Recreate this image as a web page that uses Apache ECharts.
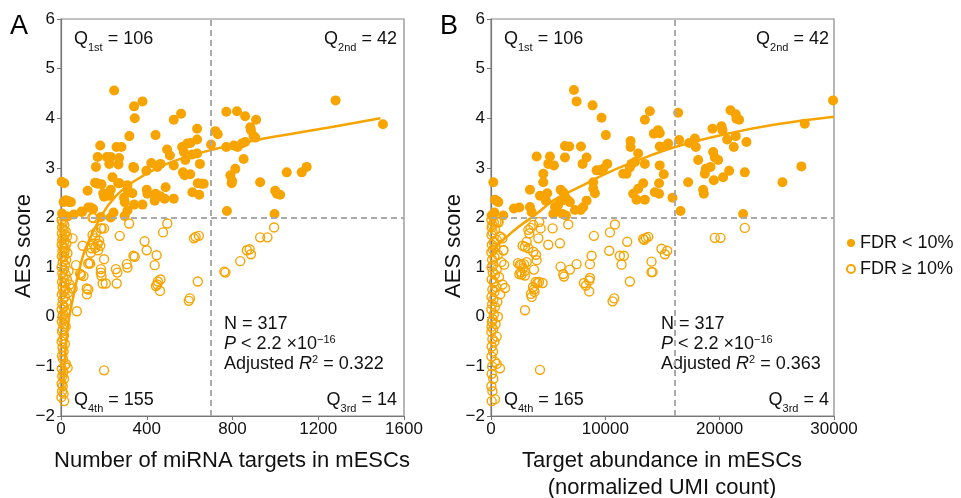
<!DOCTYPE html>
<html>
<head>
<meta charset="utf-8">
<script src="https://cdn.jsdelivr.net/npm/echarts@6/dist/echarts.min.js"></script>
<style>
  html, body { margin: 0; padding: 0; background: #fff; }
  #charts { width: 961px; height: 498px; }
</style>
</head>
<body>
<div id="charts"></div>
<script>
// 颜色
var orange = '#F7A400';

// 坐标轴刻度
var yTicks = [-2, -1, 0, 1, 2, 3, 4, 5, 6];
var xTicksA = [0, 400, 800, 1200, 1600];
var xTicksB = [0, 10000, 20000, 30000];
var cutA = 700;      // A图竖虚线
var cutB = 16100;    // B图竖虚线
var cutY = 2;        // 横虚线

// A: FDR < 10%
var aFilled = [
  [248,4.56],[341,4.24],[380,4.34],[344,4.0],[560,4.09],[526,3.97],[635,3.79],[635,3.57],[319,3.64],[441,3.66],
  [183,3.45],[259,3.42],[282,3.42],[171,3.22],[214,3.22],[232,3.22],[271,3.2],[225,3.08],[268,3.07],[163,3.02],
  [341,3.0],[240,2.81],[166,2.69],[189,2.67],[273,2.69],[232,2.56],[124,2.54],[225,2.44],[201,2.42],[310,2.65],
  [313,2.51],[333,2.49],[294,2.4],[297,2.31],[310,2.14],[297,2.03],[245,2.1],[232,2.0],[186,2.01],[127,2.2],
  [139,2.2],[150,2.17],[98,2.11],[46,2.31],[39,2.31],[15,2.69],[12,2.31],[15,2.02],[31,2.02],[380,2.26],
  [341,2.26],[437,2.34],[464,2.43],[483,2.38],[526,2.38],[400,2.56],[403,2.48],[488,2.61],[441,2.48],[398,2.94],
  [421,3.1],[449,3.02],[464,3.08],[495,3.37],[508,3.25],[526,3.05],[565,3.42],[573,3.32],[580,3.16],[569,2.91],
  [577,2.85],[603,2.87],[612,3.27],[589,3.49],[604,3.5],[635,3.29],[648,3.08],[654,2.68],[638,2.69],[666,2.68],
  [613,2.51],[645,2.46],[700,3.47],[720,3.74],[731,3.68],[771,4.13],[821,4.14],[859,4.04],[910,3.97],[883,3.82],
  [886,3.76],[898,3.64],[906,3.61],[771,3.42],[806,3.45],[824,3.42],[844,3.49],[859,3.52],[852,3.18],[813,2.98],
  [790,2.85],[798,2.74],[796,2.69],[774,2.13],[929,2.71],[999,2.54],[1007,2.48],[1022,2.46],[1053,2.91],[1123,2.91],
  [1146,3.02],[1281,4.36],[1502,3.88],[996,2.07],[3,2.72],[22,2.35],[33,2.33],[96,2.12],[159,2.7],[173,2.68],
  [197,2.49],[267,2.69],[311,2.55],[337,3.02],[5,2.08],[60,2.06]
];

// A: FDR ≥ 10%
var aOpen = [
  [201,-1.08],[74,0.11],[121,0.45],[127,0.55],[54,0.57],[70,1.04],[93,0.84],[105,0.82],[136,1.07],[132,1.09],
  [139,1.29],[152,1.46],[160,1.39],[171,1.47],[178,1.53],[183,1.43],[173,1.34],[147,1.65],[163,1.7],[186,1.78],
  [201,1.78],[152,1.99],[101,1.43],[54,1.58],[186,0.96],[186,0.89],[189,0.82],[194,0.67],[209,0.67],[201,1.16],
  [256,0.96],[263,0.89],[260,0.67],[274,1.63],[318,1.88],[307,1.06],[310,0.99],[338,1.23],[344,1.21],[390,1.52],
  [400,1.34],[437,1.04],[446,1.24],[449,0.65],[452,0.71],[464,0.75],[462,0.52],[443,0.62],[476,1.7],[496,1.88],
  [596,0.32],[601,0.37],[620,1.58],[628,1.61],[643,1.63],[638,0.71],[762,0.91],[767,0.89],[836,1.12],[867,1.34],
  [880,1.36],[886,1.26],[929,1.6],[963,1.6],[994,1.8],[146,2.0],[190,1.78],[159,1.58],[143,1.38],[127,1.07],
  [89,0.87],[120,0.57],
  [3,1.95],[8,1.9],[15,1.85],[5,1.8],[12,1.75],[22,1.72],[4,1.68],[18,1.65],[9,1.6],[28,1.62],
  [6,1.55],[14,1.5],[25,1.48],[3,1.45],[10,1.4],[20,1.38],[7,1.32],[16,1.3],[30,1.28],[4,1.22],
  [12,1.2],[24,1.15],[8,1.1],[18,1.05],[3,1.0],[14,0.95],[35,0.92],[6,0.88],[22,0.85],[10,0.8],
  [28,0.75],[5,0.7],[16,0.68],[40,0.65],[8,0.6],[20,0.55],[12,0.5],[32,0.48],[4,0.45],[18,0.4],
  [9,0.35],[25,0.3],[6,0.25],[14,0.2],[3,0.15],[20,0.1],[10,0.05],[7,0.0],[16,-0.05],[4,-0.1],
  [12,-0.15],[22,-0.2],[8,-0.25],[5,-0.3],[14,-0.38],[10,-0.45],[3,-0.5],[18,-0.55],[7,-0.62],[12,-0.7],
  [5,-0.78],[9,-0.85],[23,-0.95],[31,-1.03],[18,-0.98],[4,-1.05],[11,-1.12],[6,-1.2],[14,-1.25],[3,-1.35],
  [8,-1.4],[5,-1.5],[12,-1.55],[15,-1.7],[2,-1.62]
];

// A: 拟合曲线
var aFit = [[10,-1.5],[20,-0.7],[35,-0.1],[50,0.25],[80,0.85],[115,1.38],[190,2.05],[260,2.45],[337,2.72],
  [493,3.08],[700,3.36],[960,3.6],[1270,3.83],[1490,4.0]];

// B: FDR < 10%
var bFilled = [
  [7253,4.57],[7486,4.34],[8885,4.26],[9671,4.01],[10050,3.66],[6467,3.44],[6846,3.43],[7865,3.43],[3991,3.23],[5156,3.23],
  [5010,3.08],[5505,3.05],[6467,3.21],[8011,3.08],[8360,3.21],[4573,2.88],[4573,2.71],[4923,2.49],[4806,2.34],[4282,2.44],
  [3408,2.56],[3408,2.21],[2476,2.2],[204,2.71],[495,2.34],[641,2.31],[350,2.36],[58,2.04],[1078,2.04],[3554,2.11],
  [5447,2.07],[5593,2.21],[6088,2.56],[6321,2.51],[6467,2.42],[6671,2.36],[6904,2.31],[6176,2.34],[5884,2.26],[5738,2.18],
  [6263,2.07],[6554,2.04],[7341,2.15],[7836,2.15],[8069,2.21],[8360,2.34],[8943,2.58],[9088,2.49],[9234,2.95],[9525,2.95],
  [9817,2.98],[10166,3.08],[8943,2.71],[11565,2.88],[11856,2.88],[12147,3.01],[12293,3.08],[12584,3.12],[12875,3.29],[12205,3.42],
  [12205,3.54],[12438,2.48],[12730,2.36],[12875,2.58],[13312,2.69],[13458,2.36],[13458,3.08],[13458,3.97],[13895,4.14],[14245,3.69],
  [14613,3.76],[14759,3.7],[14759,3.43],[15050,3.42],[15497,3.49],[14759,3.05],[15109,2.87],[14701,2.69],[14322,2.51],[14701,2.48],
  [15876,2.4],[16371,4.11],[16458,3.56],[16575,2.13],[17245,2.71],[17332,3.5],[17828,3.59],[17915,3.42],[18119,3.16],[18701,2.88],
  [18788,2.98],[18555,2.56],[18613,2.48],[19196,3.02],[19370,3.79],[19429,3.32],[19575,3.21],[19487,2.75],[19866,3.16],[20158,3.84],
  [20245,3.76],[20304,2.81],[20654,3.57],[20828,2.94],[20945,4.16],[21236,3.42],[21411,4.08],[21469,3.99],[21702,3.97],[21411,3.64],
  [22198,2.91],[22344,3.52],[22052,2.07],[25490,2.71],[27149,3.03],[27441,3.89],[29917,4.36],[150,2.05],[300,2.1],[2000,2.18]
];

// B: FDR ≥ 10%
var bOpen = [
  [4282,-1.07],[2971,0.13],[2476,0.86],[2680,0.85],[2971,0.83],[2534,1.05],[2884,1.06],[3117,1.1],[2767,1.43],[2971,1.41],
  [3117,1.51],[3263,1.38],[3700,1.31],[3933,1.25],[3991,1.14],[3350,1.68],[3466,1.79],[3758,0.95],[3496,0.46],[3758,0.55],
  [4050,0.68],[4515,0.68],[4137,1.58],[4340,1.78],[4224,1.91],[5010,1.45],[5389,1.78],[6030,1.48],[6088,1.01],[6321,0.86],
  [6380,0.81],[6904,0.95],[7486,1.06],[6758,1.86],[8594,0.73],[8127,0.68],[8302,0.63],[8594,0.51],[8652,0.78],[8652,1.06],
  [8797,1.23],[9001,1.63],[10341,1.33],[10400,1.7],[10836,1.86],[10632,0.31],[10778,0.37],[11273,1.23],[11419,1.05],[11622,1.23],
  [11914,1.51],[12147,0.71],[13312,1.57],[13546,1.59],[13750,1.61],[13400,1.55],[14040,1.11],[14040,0.9],[14128,0.9],[14914,1.37],
  [15206,1.26],[15410,1.33],[19575,1.59],[20070,1.59],[22198,1.79],
  [642,1.91],[787,1.61],[1079,1.34],[2360,1.08],[2650,1.05],[2799,0.98],[2600,0.9],[2950,0.92],[3673,0.6],[3900,0.7],
  [4200,0.7],[3800,0.5],[3560,0.4],[3265,1.75],[3700,1.85],
  [30,1.95],[250,1.9],[480,1.92],[120,1.85],[650,1.9],[60,1.8],[350,1.75],[800,1.62],[150,1.7],[40,1.65],
  [500,1.55],[250,1.5],[1000,1.58],[80,1.45],[400,1.4],[180,1.35],[1080,1.34],[30,1.3],[600,1.25],[300,1.2],
  [100,1.15],[900,1.1],[200,1.05],[50,1.0],[500,0.95],[1150,1.05],[150,0.9],[350,0.85],[700,0.8],[60,0.75],
  [250,0.7],[1000,0.65],[450,0.6],[120,0.55],[1224,0.58],[300,0.5],[800,0.45],[40,0.4],[200,0.35],[550,0.3],
  [100,0.25],[350,0.2],[30,0.15],[250,0.05],[600,0.0],[150,-0.05],[80,-0.1],[400,-0.15],[50,-0.2],[200,-0.25],
  [30,-0.3],[498,-0.4],[120,-0.45],[300,-0.5],[60,-0.6],[180,-0.7],[40,-0.8],[350,-0.91],[787,-1.04],[500,-0.95],
  [100,-1.0],[60,-1.15],[200,-1.25],[30,-1.4],[120,-1.5],[350,-1.66],[60,-1.7]
];

// B: 拟合曲线
var bFit = [[60,1.25],[500,1.41],[1224,1.58],[2390,1.81],[3850,2.05],[5500,2.35],[7784,2.62],[10000,2.88],
  [12157,3.09],[16100,3.42],[20900,3.7],[25000,3.88],[30000,4.03]];

var charts = echarts.init(document.getElementById('charts'));

var fontName = 'Liberation Sans';
var minus = function(v){ return String(v).replace('-', '\u2212'); };

function xAxisOf(idx, ticks){
  return {
    type:'value', gridIndex: idx, min: ticks[0], max: ticks[ticks.length-1],
    interval: ticks[1]-ticks[0],
    axisLine:{ show:true, onZero:false, lineStyle:{ color:'#777', width:1.2 } },
    axisTick:{ show:true, length:4, lineStyle:{ color:'#777' } },
    axisLabel:{ fontSize:17, color:'#111', fontFamily:fontName, margin:5, formatter:function(v){ return String(v); } },
    splitLine:{ show:false }
  };
}
function yAxisOf(idx){
  return {
    type:'value', gridIndex: idx, min: yTicks[0], max: yTicks[yTicks.length-1], interval:1,
    axisLine:{ show:true, onZero:false, lineStyle:{ color:'#777', width:1.2 } },
    axisTick:{ show:true, length:4, lineStyle:{ color:'#777' } },
    axisLabel:{ fontSize:17, color:'#111', fontFamily:fontName, margin:6, formatter: minus },
    splitLine:{ show:false }
  };
}
function cutLines(xCut){
  return {
    silent:true, symbol:['none','none'], animation:false,
    label:{ show:false },
    lineStyle:{ type:[6,4], color:'#aaa', width:2 },
    data:[ { yAxis: cutY }, { xAxis: xCut } ]
  };
}
function panelSeries(idx, filled, open, fit, xCut){
  return [{
    name:'FDR \u2265 10%', type:'scatter', xAxisIndex:idx, yAxisIndex:idx,
    symbol:'circle', symbolSize:9,
    itemStyle:{ color:'rgba(255,255,255,0)', borderColor:orange, borderWidth:1.4, opacity:1 },
    data: open
  },{
    name:'FDR < 10%', type:'scatter', xAxisIndex:idx, yAxisIndex:idx,
    symbol:'circle', symbolSize:10,
    itemStyle:{ color:orange, opacity:1 },
    data: filled
  },{
    name:'fit', type:'line', xAxisIndex:idx, yAxisIndex:idx,
    smooth:0.4, symbol:'none', lineStyle:{ color:orange, width:2.5 },
    data: fit, markLine: cutLines(xCut), z:1
  }];
}

function label(x, y, rich, text, align){
  return { type:'text', x:x, y:y, style:{ text:text, rich:rich, align:align||'left', verticalAlign:'middle', fontFamily:fontName } };
}
var qRich = {
  m:{ fontSize:18, lineHeight:28, fontFamily:fontName, fill:'#111', verticalAlign:'middle' },
  s:{ fontSize:11, lineHeight:11, fontFamily:fontName, fill:'#111', verticalAlign:'bottom' }
};
var stRich = {
  m:{ fontSize:18, lineHeight:20, fontFamily:fontName, fill:'#111', verticalAlign:'middle' },
  i:{ fontSize:18, lineHeight:20, fontFamily:fontName, fill:'#111', fontStyle:'italic', verticalAlign:'middle' },
  u:{ fontSize:11, lineHeight:11, fontFamily:fontName, fill:'#111', verticalAlign:'top' }
};
function panelTexts(x0, x1, q, stX, r2){
  return [
    label(x0, 39, qRich, '{m|Q}{s|1st}{m| = ' + q[0] + '}'),
    label(x1, 39, qRich, '{m|Q}{s|2nd}{m| = ' + q[1] + '}', 'right'),
    label(x0, 400, qRich, '{m|Q}{s|4th}{m| = ' + q[3] + '}'),
    label(x1, 400, qRich, '{m|Q}{s|3rd}{m| = ' + q[2] + '}', 'right'),
    label(stX, 324, stRich, '{m|N = 317}'),
    label(stX, 344, stRich, '{i|P}{m| < 2.2 \u00d710}{u|\u221216}'),
    label(stX, 364, stRich, '{m|Adjusted }{i|R}{u|2}{m| = ' + r2 + '}')
  ];
}

var titleStyle = { fontSize:22, fontFamily:fontName, fill:'#111', align:'center', verticalAlign:'middle' };
function title(x, y, text, rot){
  return { type:'text', x:x, y:y, rotation: rot||0, style: Object.assign({ text:text }, titleStyle) };
}

var option = {
  animation:false,
  backgroundColor:'#fff',
  textStyle:{ fontFamily:fontName },
  grid:[
    { left:61, top:19, width:343, height:397, show:true, borderColor:'#888', borderWidth:1.2, backgroundColor:'transparent' },
    { left:491, top:19, width:343, height:397, show:true, borderColor:'#888', borderWidth:1.2, backgroundColor:'transparent' }
  ],
  xAxis:[ xAxisOf(0, xTicksA), xAxisOf(1, xTicksB) ],
  yAxis:[ yAxisOf(0), yAxisOf(1) ],
  legend:{
    orient:'vertical', left:841, top:229, itemGap:8, itemWidth:8, itemHeight:8,
    textStyle:{ fontSize:18, color:'#111', fontFamily:fontName },
    data:[ { name:'FDR < 10%' }, { name:'FDR \u2265 10%' } ]
  },
  series: panelSeries(0, aFilled, aOpen, aFit, cutA).concat(panelSeries(1, bFilled, bOpen, bFit, cutB)),
  graphic: [
    { type:'text', left:10, top:13, style:{ text:'A', fontSize:27, fontFamily:fontName, fill:'#000' } },
    { type:'text', left:440, top:13, style:{ text:'B', fontSize:27, fontFamily:fontName, fill:'#000' } },
    title(24, 246, 'AES score', Math.PI/2),
    title(454, 246, 'AES score', Math.PI/2),
    title(232, 461, 'Number of miRNA targets in mESCs'),
    title(662, 461, 'Target abundance in mESCs'),
    title(662, 488, '(normalized UMI count)')
  ].concat(panelTexts(74, 397, [106, 42, 14, 155], 224, '0.322'))
   .concat(panelTexts(504, 829, [106, 42, 4, 165], 661, '0.363'))
};
charts.setOption(option);
</script>
</body>
</html>
